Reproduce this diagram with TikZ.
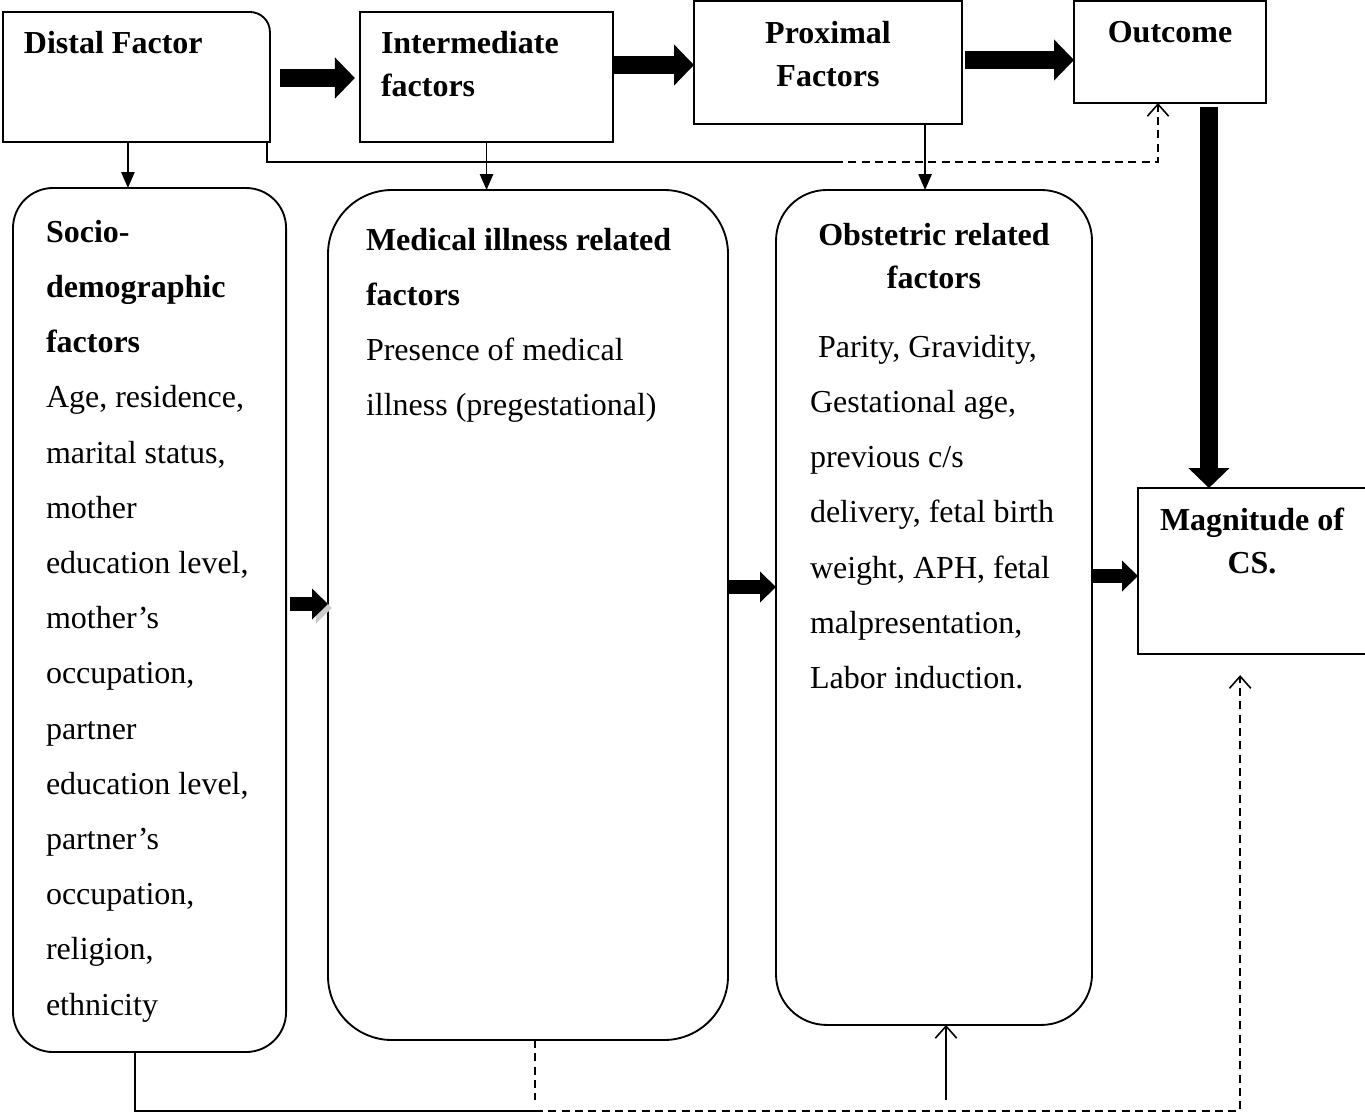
\documentclass[tikz,border=0pt]{standalone}
\usepackage{fontspec}
\setmainfont{Liberation Serif}
\usetikzlibrary{
  arrows.meta,
  calc,
  positioning,
}
\tikzset{
  >=Straight Barb[],
  box/.style={draw=black,line width=0.7pt,inner sep=0pt,outer sep=0pt},
  txt/.style={inner sep=0pt,outer sep=0pt,align=left,font=\fontsize{12}{20.7}\selectfont},
  head/.style={inner sep=0pt,outer sep=0pt,font=\bfseries\fontsize{12}{16.1}\selectfont},
  fat/.style={line width=6.75pt,-{Triangle[length=7.5pt,width=15pt]}},
  midfat/.style={line width=5.6pt,-{Triangle[length=6pt,width=11.25pt]}},
  link/.style={line width=0.6pt},
  dashlink/.style={line width=0.6pt,dash pattern=on 3pt off 2pt},
  down/.style={-{Triangle[length=6pt,width=5pt]}},
  up/.style={-{Straight Barb[length=4.5pt,width=8pt]}},
}

\begin{document}
\begin{tikzpicture}[x=0.375pt,y=-0.375pt]
  \useasboundingbox (0,0) rectangle (1365,1114);

  \node [box,draw=none,anchor=north west,minimum width=100.1pt,minimum height=48.75pt] (distal) at (3,12) {};
  \draw [line width=0.7pt,rounded corners=7.5pt] (distal.north west) -- (distal.north east) -- (distal.south east);
  \draw [line width=0.7pt] ([yshift=5pt]distal.south east) -- (distal.south east) -- (distal.south west) -- (distal.north west) -- ([xshift=5pt]distal.north west);
  \node [box,anchor=north west,minimum width=94.9pt,minimum height=48.75pt] (inter) at (360,12) {};
  \node [box,anchor=north west,minimum width=100.5pt,minimum height=46.1pt] (prox) at (694,1) {};
  \node [box,anchor=north west,minimum width=72pt,minimum height=38.25pt] (outc) at (1074,1) {};
  \node [box,anchor=north west,minimum width=86pt,minimum height=62.25pt] (magn) at (1138,488) {};

  \node [box,rounded corners=15pt,anchor=north west,minimum width=102.4pt,minimum height=324pt] (socio) at (13,188) {};
  \node [box,rounded corners=24pt,anchor=north west,minimum width=150pt,minimum height=318.75pt] (medic) at (328,190) {};
  \node [box,rounded corners=19pt,anchor=north west,minimum width=118.5pt,minimum height=313.1pt] (obst) at (776,190) {};

  \node [head,anchor=north west] (distaltxt) at (24,31) {Distal Factor};
  \node [head,anchor=north west,align=left] (intertxt) at (381,31) {Intermediate\\factors};
  \node [head,anchor=north,align=center] (proxtxt) at (828,21) {Proximal\\Factors};
  \node [head,anchor=north] (outctxt) at (1170,21) {Outcome};
  \node [head,anchor=north,align=center] (magntxt) at (1252,508) {Magnitude of\\CS.};

  \node [txt,anchor=north west] (sociotxt) at (46,220) {\textbf{Socio-}\\\textbf{demographic}\\\textbf{factors}\\Age, residence,\\marital status,\\mother\\education level,\\mother’s\\occupation,\\partner\\education level,\\partner’s\\occupation,\\religion,\\ethnicity};
  \node [txt,anchor=north west] (medictxt) at (366,228) {\textbf{Medical illness related}\\\textbf{factors}\\Presence of medical\\illness (pregestational)};
  \node [head,anchor=north,align=center] (obsthead) at (934,223) {Obstetric related\\factors};
  \node [txt,anchor=north west] (obsttxt) at (810,335) {\hspace{3pt}Parity, Gravidity,\\Gestational age,\\previous c/s\\delivery, fetal birth\\weight, APH, fetal\\malpresentation,\\Labor induction.};

  \draw [fat,shorten <=3.75pt,shorten >=1.9pt] (distal.east |- 0,78) -- (inter.west |- 0,78);
  \draw [fat,shorten <=0.4pt] (inter.east |- 0,65) -- (prox.west |- 0,65);
  \draw [fat,shorten <=1pt] (prox.east |- 0,60) -- (outc.west |- 0,60);
  \draw [fat,shorten <=1.5pt] ([xshift=14.6pt]outc.south) -- ([xshift=14.6pt]outc.south |- magn.north);

  \draw [midfat,shorten <=1.5pt,preaction={draw=gray!40,transform canvas={shift={(1.5pt,-1.5pt)}}}] (socio.east |- 0,604) -- (medic.west |- 0,604);
  \draw [midfat] (medic.east |- 0,587) -- (obst.west |- 0,587);
  \draw [midfat] (obst.east |- 0,576) -- (magn.west |- 0,576);

  \draw [link,down] ([xshift=-3.2pt]distal.south) -- ([xshift=-3.2pt]distal.south |- socio.north);
  \draw [link,down] (inter.south) -- (inter.south |- medic.north);
  \draw [link,down] ([xshift=36.4pt]prox.south) -- ([xshift=36.4pt]prox.south |- obst.north);

  \coordinate (dsplit) at (835,162);
  \draw [link] ([xshift=-1.1pt]distal.south east) |- (dsplit);
  \draw [dashlink,up] (dsplit) -| ([xshift=-4.5pt]outc.south);

  \coordinate (bsplit) at (535,1111);
  \coordinate (obstin) at (946,1100);
  \draw [link] ([xshift=-5.4pt]socio.south) |- (bsplit);
  \draw [dashlink,up,shorten >=7.9pt] (bsplit) -| ([xshift=-4.7pt]magn.south);
  \draw [dashlink] ([xshift=2.6pt]medic.south) -- ([xshift=2.6pt]medic.south |- obstin);
  \draw [link,up] (obstin) -- (obstin |- obst.south);
\end{tikzpicture}
\end{document}
